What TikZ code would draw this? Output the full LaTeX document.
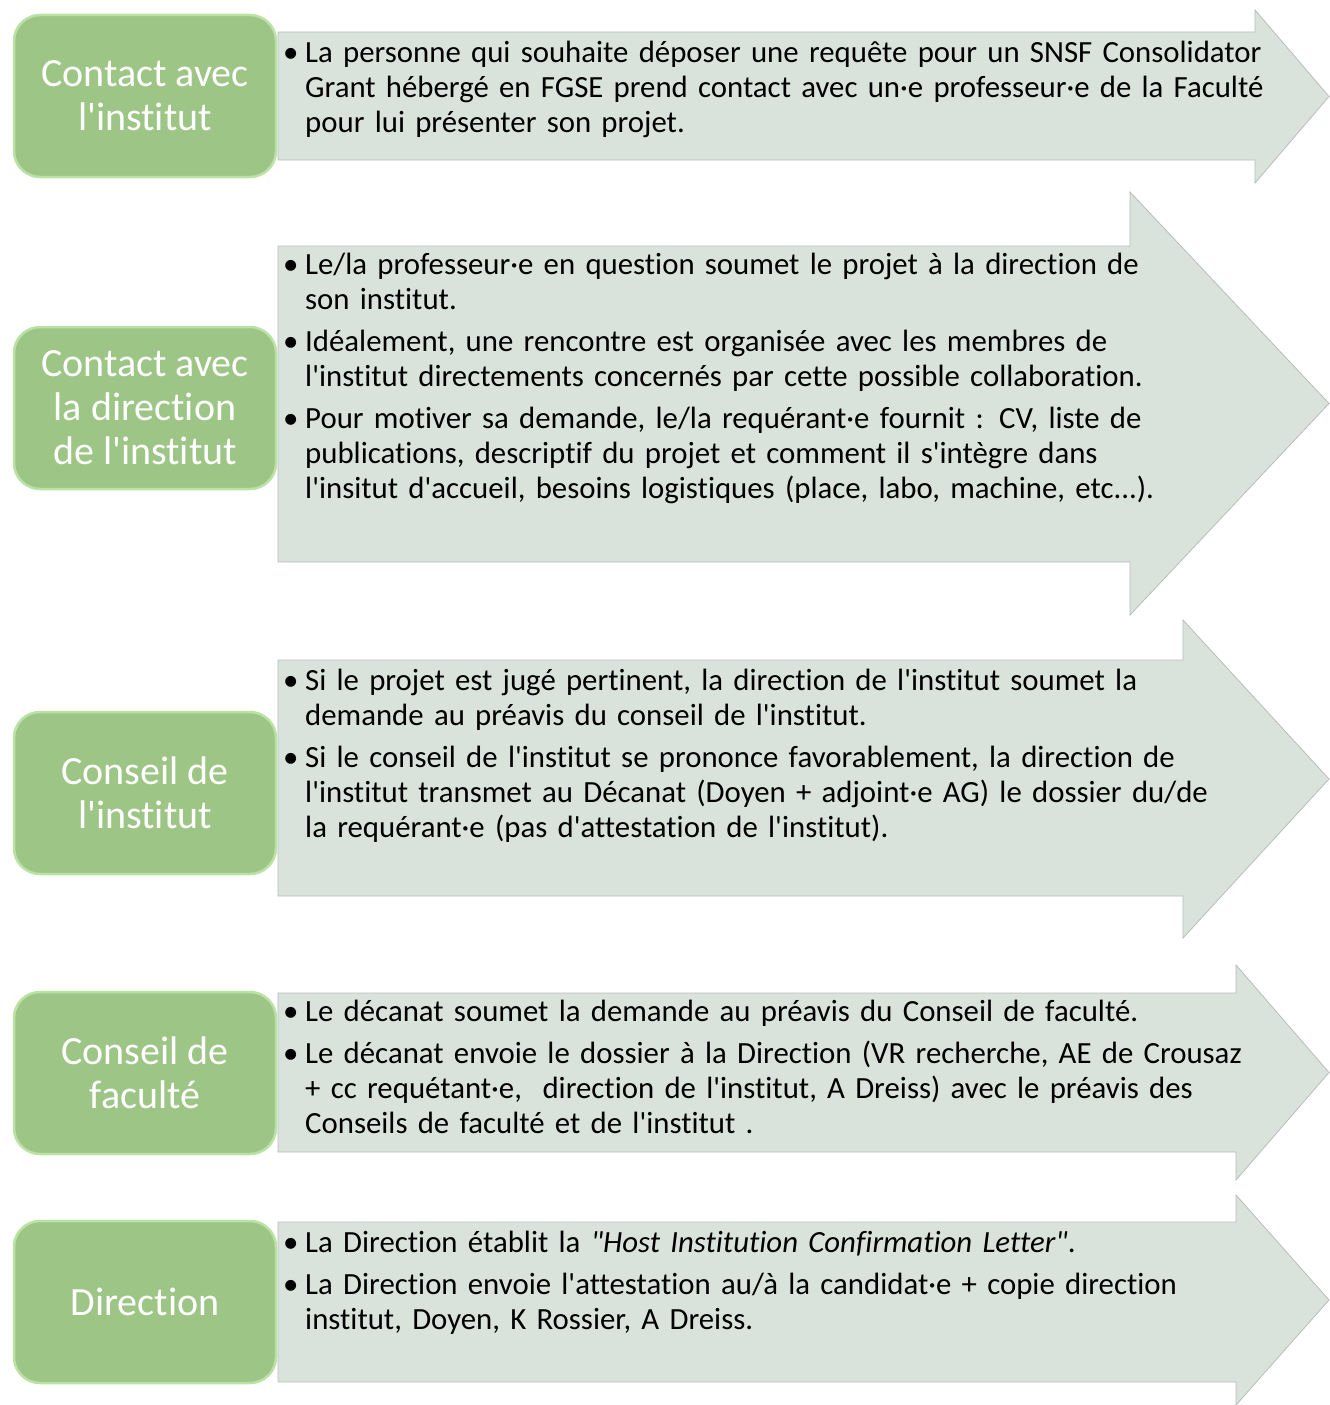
\documentclass[tikz,border=0pt]{standalone}
\usepackage{fontspec}
\setmainfont{Carlito}[Ligatures={TeXOff,NoCommon}]
\definecolor{stagefill}{RGB}{157,198,134}
\definecolor{stageedge}{RGB}{186,226,164}
\definecolor{flowfill}{RGB}{217,227,220}
\definecolor{flowline}{RGB}{185,188,186}
\newcommand{\itm}[1]{\par\hangindent=22pt\hangafter=1\noindent
  \rule{0pt}{26pt}\makebox[22pt][l]{\textbullet}#1\par}
\begin{document}
\begin{tikzpicture}[x=1pt,y=-1pt,
  stage/.style={draw=stageedge,line width=2.5pt,fill=stagefill,rounded corners=26pt,
    minimum width=262pt,minimum height=162pt,align=center,text=white,
    font=\fontsize{40}{44}\selectfont},
  flow/.style={draw=flowline,line width=0.8pt,fill=flowfill},
  steptext/.style={anchor=north west,inner sep=0pt,text width=1040pt,
    font=\fontsize{30.8}{35}\selectfont\setlength{\parskip}{7pt}}]
  \useasboundingbox (0,0) rectangle (1330,1405);
  % arrows: body top / body bottom / head x / head top / head bottom
  \foreach \t/\b/\hx/\ht/\hb in {32/160/1255/10/183, 246/562/1130/192/615,
      660/896/1183/620/938, 993/1152/1236/965/1180, 1222/1382/1236/1195/1405}
    \draw[flow] (278,\t) -- (\hx,\t) -- (\hx,\ht) -- (1329,{(\ht+\hb)/2})
      -- (\hx,\hb) -- (\hx,\b) -- (278,\b) -- cycle;
  % stages
  \node[stage] (s1) at (145,96) {Contact avec\\l'institut};
  \node[stage] (s2) at (145,408) {Contact avec\\la direction\\de l'institut};
  \node[stage] (s3) at (145,793) {Conseil de\\l'institut};
  \node[stage] (s4) at (145,1073) {Conseil de\\faculté};
  \node[stage] (s5) at (145,1302) {Direction};
  % texts
  \node[steptext] (t1) at (283,20) {%
    \itm{La personne qui souhaite déposer une requête pour un SNSF Consolidator\newline
      Grant hébergé en FGSE prend contact avec un·e professeur·e de la Faculté\newline
      pour lui présenter son projet.}};
  \node[steptext] (t2) at (283,232) {%
    \itm{Le/la professeur·e en question soumet le projet à la direction de\newline
      son institut.}
    \itm{Idéalement, une rencontre est organisée avec les membres de\newline
      l'institut directements concernés par cette possible collaboration.}
    \itm{Pour motiver sa demande, le/la requérant·e fournit : CV, liste de\newline
      publications, descriptif du projet et comment il s'intègre dans\newline
      l'insitut d'accueil, besoins logistiques (place, labo, machine, etc...).}};
  \node[steptext] (t3) at (283,648) {%
    \itm{Si le projet est jugé pertinent, la direction de l'institut soumet la\newline
      demande au préavis du conseil de l'institut.}
    \itm{Si le conseil de l'institut se prononce favorablement, la direction de\newline
      l'institut transmet au Décanat (Doyen + adjoint·e AG) le dossier du/de\newline
      la requérant·e (pas d'attestation de l'institut).}};
  \node[steptext] (t4) at (283,979) {%
    \itm{Le décanat soumet la demande au préavis du Conseil de faculté.}
    \itm{Le décanat envoie le dossier à la Direction (VR recherche, AE de Crousaz\newline
      + cc requétant·e, \ direction de l'institut, A Dreiss) avec le préavis des\newline
      Conseils de faculté et de l'institut .}};
  \node[steptext] (t5) at (283,1210) {%
    \itm{La Direction établit la \textit{"Host Institution Confirmation Letter"}.}
    \itm{La Direction envoie l'attestation au/à la candidat·e + copie direction\newline
      institut, Doyen, K Rossier, A Dreiss.}};
\end{tikzpicture}
\end{document}
